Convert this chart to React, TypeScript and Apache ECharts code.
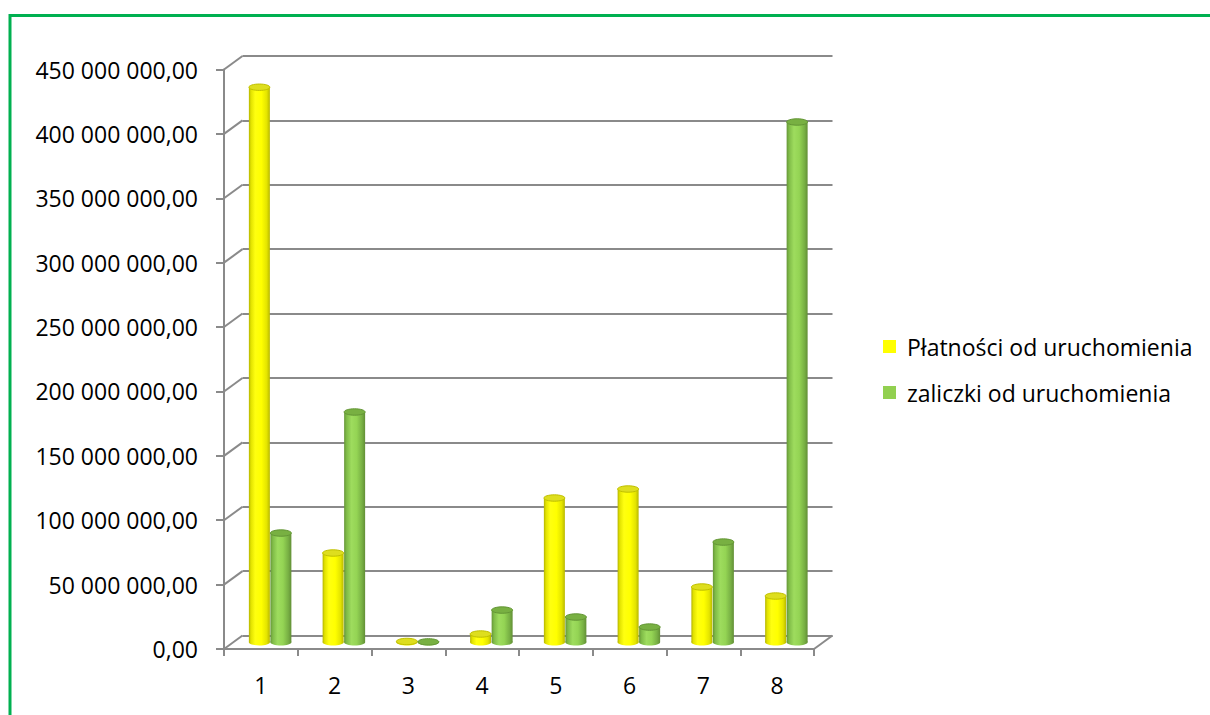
import React, { useEffect, useRef } from "react";
import * as echarts from "echarts";

const categories = ["1", "2", "3", "4", "5", "6", "7", "8"];
const seriesNames = ["Płatności od uruchomienia", "zaliczki od uruchomienia"];
const platnosci = [431e6, 69.3e6, 0.6e6, 6.4e6, 112e6, 119e6, 42.9e6, 35.9e6];
const zaliczki = [84.8e6, 178.8e6, 0.3e6, 25e6, 19.6e6, 11.8e6, 77.8e6, 404e6];
const yTicks = [0, 50e6, 100e6, 150e6, 200e6, 250e6, 300e6, 350e6, 400e6, 450e6];

const FONT = "'Open Sans', sans-serif";
const GRID_GREY = "#8a8a8a";
const DEPTH_X = 18.5;
const DEPTH_Y = -13.5;

const FRONT = { left: 224, top: 69.5, width: 590, height: 579.5 };

function fmt(v: number): string {
  const s = Math.round(v)
    .toString()
    .replace(/\B(?=(\d{3})+(?!\d))/g, " ");
  return s + ",00";
}

const palettes = [
  {
    legend: "#ffff00",
    body: [
      [0, "#b4b400"],
      [0.1, "#e2e200"],
      [0.3, "#ffff10"],
      [0.6, "#ffff00"],
      [0.85, "#e4e400"],
      [1, "#b8b800"],
    ],
    top: "#dede1e",
    topStroke: "#c0c000",
  },
  {
    legend: "#92d050",
    body: [
      [0, "#669638"],
      [0.12, "#80bc48"],
      [0.35, "#9edc5e"],
      [0.6, "#94d454"],
      [0.85, "#78b044"],
      [1, "#628f36"],
    ],
    top: "#78b042",
    topStroke: "#649636",
  },
];

function cylinderRenderer(seriesIdx: number) {
  return (params: any, api: any) => {
    const idx = api.value(0);
    const v = api.value(1);
    const top = api.coord([idx, v]);
    const base = api.coord([idx, 0]);
    const w = 21;
    const offset = seriesIdx === 0 ? -10.75 : 10.75;
    const cx = top[0] + offset;
    const ry = 3.2;
    const pal = palettes[seriesIdx];
    const grad = new echarts.graphic.LinearGradient(
      0,
      0,
      1,
      0,
      pal.body.map((s: any) => ({ offset: s[0], color: s[1] }))
    );
    return {
      type: "group",
      children: [
        {
          type: "ellipse",
          shape: { cx, cy: base[1], rx: w / 2, ry },
          style: { fill: grad },
        },
        {
          type: "rect",
          shape: { x: cx - w / 2, y: top[1], width: w, height: Math.max(0, base[1] - top[1]) },
          style: { fill: grad },
        },
        {
          type: "ellipse",
          shape: { cx, cy: top[1], rx: w / 2, ry },
          style: { fill: pal.top, stroke: pal.topStroke, lineWidth: 1 },
        },
      ],
    };
  };
}

function frameRenderer(params: any, api: any) {
  const v = api.value(1);
  const p = api.coord([0, v]);
  const left = params.coordSys.x;
  const right = params.coordSys.x + params.coordSys.width;
  const children: any[] = [
    {
      type: "line",
      shape: { x1: left, y1: p[1], x2: left + DEPTH_X, y2: p[1] + DEPTH_Y },
      style: { stroke: GRID_GREY, lineWidth: 2 },
    },
  ];
  if (v === 0) {
    children.push({
      type: "line",
      shape: { x1: right, y1: p[1], x2: right + DEPTH_X, y2: p[1] + DEPTH_Y },
      style: { stroke: GRID_GREY, lineWidth: 2 },
    });
  }
  return { type: "group", children };
}

export default function App() {
  const ref = useRef<HTMLDivElement>(null);

  useEffect(() => {
    if (!ref.current) return;
    const chart = echarts.init(ref.current, undefined, { renderer: "svg" });

    const back = {
      left: FRONT.left + DEPTH_X,
      top: FRONT.top + DEPTH_Y,
      width: FRONT.width,
      height: FRONT.height,
    };
    const mid = {
      left: FRONT.left + DEPTH_X / 2,
      top: FRONT.top + DEPTH_Y / 2,
      width: FRONT.width,
      height: FRONT.height,
    };

    const hiddenCat = (gridIndex: number) => ({
      type: "category",
      gridIndex,
      data: categories,
      axisLine: { show: false },
      axisTick: { show: false },
      axisLabel: { show: false },
      splitLine: { show: false },
    });
    const valueBase = {
      type: "value",
      min: 0,
      max: yTicks[yTicks.length - 1],
      interval: yTicks[1] - yTicks[0],
    };

    chart.setOption({
      animation: false,
      backgroundColor: "#ffffff",
      grid: [
        { ...FRONT, containLabel: false },
        { ...back, containLabel: false },
        { ...mid, containLabel: false },
      ],
      xAxis: [
        {
          type: "category",
          gridIndex: 0,
          data: categories,
          axisLine: { show: true, lineStyle: { color: GRID_GREY, width: 2 } },
          axisTick: { show: true, length: 7, lineStyle: { color: GRID_GREY, width: 2 } },
          axisLabel: { margin: 24, fontSize: 23, color: "#000", fontFamily: FONT },
          splitLine: { show: false },
          z: 1,
        },
        hiddenCat(1),
        hiddenCat(2),
      ],
      yAxis: [
        {
          ...valueBase,
          gridIndex: 0,
          axisLine: { show: true, lineStyle: { color: GRID_GREY, width: 2 } },
          axisTick: { show: true, length: 8, lineStyle: { color: GRID_GREY, width: 2 } },
          axisLabel: {
            margin: 26,
            fontSize: 23,
            color: "#000",
            fontFamily: FONT,
            formatter: (v: number) => fmt(v),
          },
          splitLine: { show: false },
        },
        {
          ...valueBase,
          gridIndex: 1,
          axisLine: { show: false },
          axisTick: { show: false },
          axisLabel: { show: false },
          splitLine: { show: true, lineStyle: { color: GRID_GREY, width: 2 } },
        },
        {
          ...valueBase,
          gridIndex: 2,
          axisLine: { show: false },
          axisTick: { show: false },
          axisLabel: { show: false },
          splitLine: { show: false },
        },
      ],
      legend: {
        orient: "vertical",
        left: 878,
        top: 330,
        itemWidth: 13,
        itemHeight: 13,
        itemGap: 23,
        icon: "rect",
        textStyle: {
          fontSize: 23,
          color: "#000",
          fontFamily: FONT,
          padding: [0, 0, 0, 6],
        },
        data: seriesNames.map((n, i) => ({ name: n, itemStyle: { color: palettes[i].legend } })),
      },
      graphic: [
        {
          type: "polyline",
          shape: { points: [[10, 716], [10, 15.5], [1212, 15.5]] },
          style: { stroke: "#00b050", lineWidth: 3, fill: "none" },
          silent: true,
        },
      ],
      series: [
        {
          type: "custom",
          name: "frame",
          xAxisIndex: 0,
          yAxisIndex: 0,
          renderItem: frameRenderer,
          data: yTicks.map((v) => [0, v]),
          encode: { x: 0, y: 1 },
          silent: true,
          z: 1,
        },
        {
          type: "custom",
          name: seriesNames[0],
          xAxisIndex: 2,
          yAxisIndex: 2,
          renderItem: cylinderRenderer(0),
          data: platnosci.map((v, i) => [i, v]),
          encode: { x: 0, y: 1 },
          itemStyle: { color: palettes[0].legend },
          z: 5,
        },
        {
          type: "custom",
          name: seriesNames[1],
          xAxisIndex: 2,
          yAxisIndex: 2,
          renderItem: cylinderRenderer(1),
          data: zaliczki.map((v, i) => [i, v]),
          encode: { x: 0, y: 1 },
          itemStyle: { color: palettes[1].legend },
          z: 5,
        },
      ],
    });

    return () => {
      chart.dispose();
    };
  }, []);

  return (
    <div
      ref={ref}
      style={{ position: "fixed", left: 0, top: 0, width: 1210, height: 715, background: "#fff" }}
    />
  );
}
